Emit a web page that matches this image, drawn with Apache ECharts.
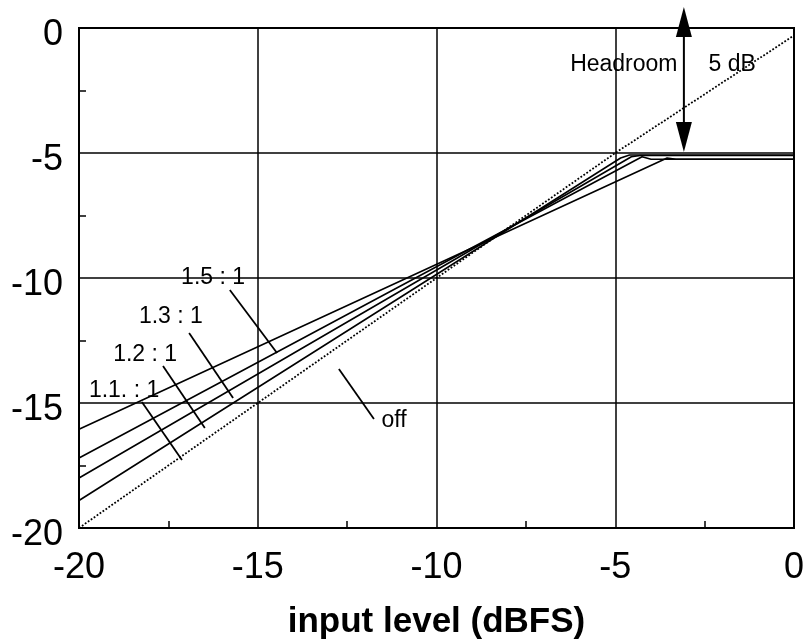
<!DOCTYPE html>
<html>
<head>
<meta charset="utf-8">
<script src="https://cdn.jsdelivr.net/npm/echarts@6/dist/echarts.min.js"></script>
<style>
html,body{margin:0;padding:0;background:#fff;}
#chart{width:804px;height:639px;}
</style>
</head>
<body>
<div id="chart"></div>
<script>
// ---- data (dB values) ----
const xTicks = [-20, -15, -10, -5, 0];
const yTicks = [-20, -15, -10, -5, 0];
const ratio15 = [[-20, -16.05], [-3.55, -5.2], [-3.3, -5.25], [0, -5.25]];
const ratio13 = [[-20, -17.2], [-4.25, -5.15], [-4.0, -5.25], [0, -5.25]];
const ratio12 = [[-20, -18.0], [-4.55, -5.15], [-4.3, -5.1], [0, -5.1]];
const ratio11 = [[-20, -18.9], [-4.85, -5.2], [-4.6, -5.08], [0, -5.08]];
const ratioOff = [[-20, -20], [-5, -5], [0, -0.3]];
const seriesNames = ['1.5 : 1', '1.3 : 1', '1.2 : 1', '1.1. : 1', 'off'];
// annotation labels [text, x, y] in data units
const labelTexts = [
  ['1.5 : 1', -16.25, -10.0],
  ['1.3 : 1', -17.43, -11.55],
  ['1.2 : 1', -18.15, -13.07],
  ['1.1. : 1', -18.74, -14.5],
  ['off', -11.19, -15.72],
  ['Headroom', -4.76, -1.45],
  ['5 dB', -1.73, -1.45]
];
// leader lines [[x1,y1],[x2,y2]] in data units
const leaders = [
  [[-15.78, -10.48], [-14.46, -13.0]],
  [[-16.92, -12.2], [-15.69, -14.8]],
  [[-17.65, -13.52], [-16.48, -16.0]],
  [[-18.24, -14.96], [-17.12, -17.28]],
  [[-12.73, -13.64], [-11.75, -15.64]]
];
// headroom arrow: x, top tip y, bottom tip y
const headroomArrow = [-3.08, 0.84, -4.96];

const FONT = '"Liberation Sans", Arial, sans-serif';
const chart = echarts.init(document.getElementById('chart'), null, {renderer: 'canvas'});

function lineSeries(name, data, dotted) {
  return {
    name: name, type: 'line', data: data, symbol: 'none', smooth: false,
    clip: false, animation: false,
    lineStyle: {color: '#000', width: dotted ? 1.8 : 1.6, type: dotted ? 'dotted' : 'solid'}
  };
}

const option = {
  backgroundColor: '#fff',
  animation: false,
  grid: {left: 79, right: 10, top: 28, bottom: 111, show: true, borderColor: '#000', borderWidth: 2,
         backgroundColor: 'transparent', containLabel: false, outerBoundsMode: 'none'},
  xAxis: {
    type: 'value', min: xTicks[0], max: xTicks[xTicks.length - 1], interval: 5,
    name: 'input level (dBFS)', nameLocation: 'middle', nameGap: 77,
    nameTextStyle: {fontFamily: FONT, fontSize: 35, fontWeight: 'bold', color: '#000'},
    axisLine: {show: true, onZero: false, lineStyle: {color: '#000', width: 2}},
    axisTick: {show: false, inside: true},
    minorTick: {show: true, splitNumber: 2, length: 7, lineStyle: {color: '#000', width: 1.5}},
    axisLabel: {fontFamily: FONT, fontSize: 36, color: '#000', margin: 22},
    splitLine: {show: true, lineStyle: {color: '#000', width: 1.5}}
  },
  yAxis: {
    type: 'value', min: yTicks[0], max: yTicks[yTicks.length - 1], interval: 5,
    axisLine: {show: true, onZero: false, lineStyle: {color: '#000', width: 2}},
    axisTick: {show: false, inside: true},
    minorTick: {show: true, splitNumber: 2, length: 7, lineStyle: {color: '#000', width: 1.5}},
    axisLabel: {
      margin: 16, formatter: '{a|{value}}',
      rich: {a: {fontFamily: FONT, fontSize: 36, color: '#000', padding: [14, 0, 0, 0]}}
    },
    splitLine: {show: true, lineStyle: {color: '#000', width: 1.5}}
  },
  series: [
    lineSeries(seriesNames[0], ratio15, false),
    lineSeries(seriesNames[1], ratio13, false),
    lineSeries(seriesNames[2], ratio12, false),
    lineSeries(seriesNames[3], ratio11, false),
    lineSeries(seriesNames[4], ratioOff, true)
  ]
};
chart.setOption(option);

function px(p) { return chart.convertToPixel({gridIndex: 0}, p); }
const graphics = [];
leaders.forEach(function (l) {
  const a = px(l[0]), b = px(l[1]);
  graphics.push({type: 'line', shape: {x1: a[0], y1: a[1], x2: b[0], y2: b[1]}, style: {stroke: '#000', lineWidth: 1.8}});
});
labelTexts.forEach(function (t) {
  const p = px([t[1], t[2]]);
  graphics.push({type: 'text', x: p[0], y: p[1], style: {text: t[0], font: '23px ' + FONT, fill: '#000', align: 'center', verticalAlign: 'middle'}});
});
(function () {
  const top = px([headroomArrow[0], headroomArrow[1]]);
  const bot = px([headroomArrow[0], headroomArrow[2]]);
  const hl = 30, hw = 8;
  graphics.push({type: 'line', shape: {x1: top[0], y1: top[1] + hl, x2: bot[0], y2: bot[1] - hl}, style: {stroke: '#000', lineWidth: 2}});
  graphics.push({type: 'polygon', shape: {points: [[top[0], top[1]], [top[0] - hw, top[1] + hl], [top[0] + hw, top[1] + hl]]}, style: {fill: '#000'}});
  graphics.push({type: 'polygon', shape: {points: [[bot[0], bot[1]], [bot[0] - hw, bot[1] - hl], [bot[0] + hw, bot[1] - hl]]}, style: {fill: '#000'}});
})();
chart.setOption({graphic: graphics});
</script>
</body>
</html>
